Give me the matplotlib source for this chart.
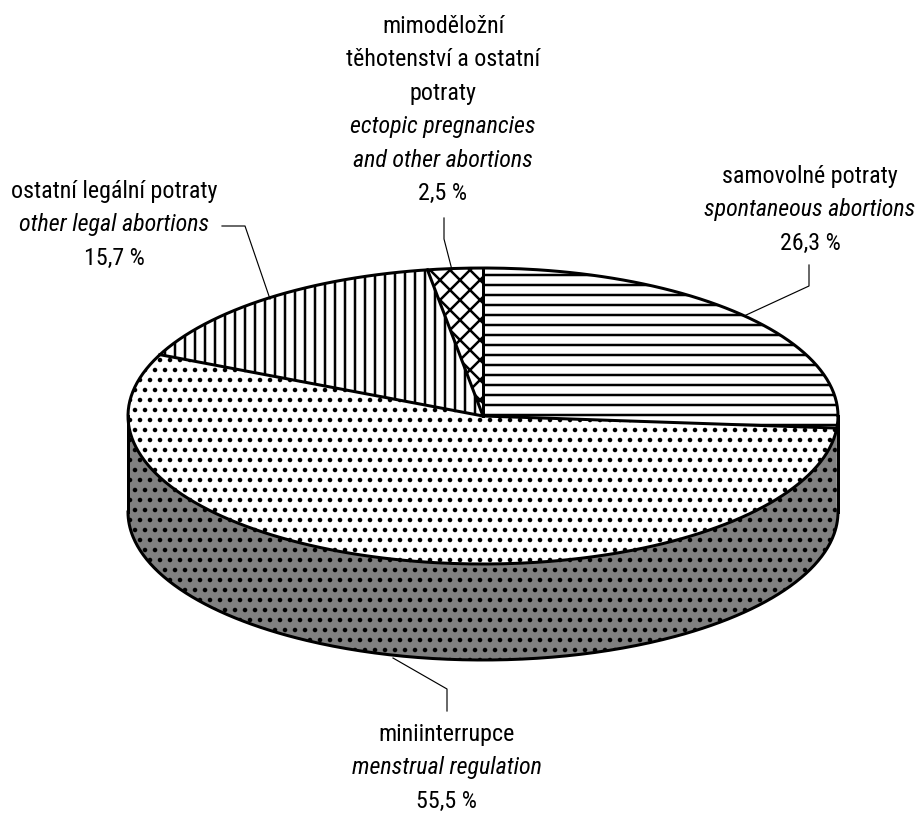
import numpy as np
import matplotlib
matplotlib.use("Agg")
import matplotlib.pyplot as plt
from matplotlib.patches import Polygon

# ---- data ----
categories_cz = ["samovolné potraty", "miniinterrupce", "ostatní legální potraty",
                 "mimoděložní těhotenství a ostatní potraty"]
categories_en = ["spontaneous abortions", "menstrual regulation", "other legal abortions",
                 "ectopic pregnancies and other abortions"]
values = [26.3, 55.5, 15.7, 2.5]
value_labels = ["26,3 %", "55,5 %", "15,7 %", "2,5 %"]

# ---- style ----
DPI = 120
W, H = 921, 817
plt.rcParams['hatch.linewidth'] = 1.5
plt.rcParams['hatch.color'] = 'black'
FONT = ['Roboto Condensed', 'Liberation Sans', 'DejaVu Sans']
fs = 24.0 * 72 / DPI

fig = plt.figure(figsize=(W / DPI, H / DPI), dpi=DPI)
ax = fig.add_axes([0, 0, 1, 1])
ax.set_xlim(0, W)
ax.set_ylim(H, 0)
ax.axis('off')

cx, cy, rx, ry, depth = 483.0, 416.0, 355.0, 148.0, 96.0
top_hatch = ['--', '..', '||', 'xx']
side_color = '#808080'


def pt(theta, dz=0.0):
    t = np.radians(theta)
    return cx + rx * np.cos(t), cy - ry * np.sin(t) + dz


def arc(a0, a1, dz=0.0, n=200):
    th = np.linspace(a0, a1, n)
    xs, ys = pt(th, dz)
    return np.column_stack([xs, ys])


total = sum(values)
angles = []
start = 90.0
for v in values:
    end = start - v / total * 360.0
    angles.append((start, end))
    start = end

# sides (visible where angle in [-180, 0] mod 360)
for i, (a0, a1) in enumerate(angles):
    for k in range(-2, 2):
        lo, hi = -180 + 360 * k, 360 * k
        s_hi = min(a0, hi)
        s_lo = max(a1, lo)
        if s_hi > s_lo:
            top = arc(s_hi, s_lo)
            bot = arc(s_lo, s_hi, depth)
            poly = Polygon(np.vstack([top, bot]), closed=True, facecolor=side_color,
                           edgecolor='black', linewidth=0, hatch=top_hatch[i], zorder=1)
            ax.add_patch(poly)

# top faces
for i, (a0, a1) in enumerate(angles):
    pts = np.vstack([[cx, cy], arc(a0, a1)])
    poly = Polygon(pts, closed=True, facecolor='white', edgecolor='black',
                   linewidth=0, hatch=top_hatch[i], zorder=2)
    ax.add_patch(poly)

# outlines
lw = 1.8
e = arc(0, 360, n=400)
ax.plot(e[:, 0], e[:, 1], color='black', lw=lw, zorder=5, solid_capstyle='round')
b = arc(180, 360, depth, n=300)
ax.plot(b[:, 0], b[:, 1], color='black', lw=lw, zorder=5)
for th in (180, 0):
    x0, y0 = pt(th)
    ax.plot([x0, x0], [y0, y0 + depth], color='black', lw=lw, zorder=5)
for (a0, a1) in angles:
    x1, y1 = pt(a0)
    ax.plot([cx, x1], [cy, y1], color='black', lw=lw, zorder=5)

# labels
pitch = 33.5
label_specs = [
    (810, 176, [(categories_cz[0], False), (categories_en[0], True), (value_labels[0], False)]),
    (447, 734, [(categories_cz[1], False), (categories_en[1], True), (value_labels[1], False)]),
    (114, 191, [(categories_cz[2], False), (categories_en[2], True), (value_labels[2], False)]),
    (443, 26, [("mimoděložní", False), ("těhotenství a ostatní", False), ("potraty", False),
               ("ectopic pregnancies", True), ("and other abortions", True),
               (value_labels[3], False)]),
]
for x, y0, lines in label_specs:
    for j, (txt, it) in enumerate(lines):
        ax.text(x, y0 + j * pitch, txt, ha='center', va='center', fontsize=fs,
                family=FONT, style='italic' if it else 'normal', color='black')

leaders = [
    [(744, 316), (809, 286), (809, 265)],
    [(393, 658), (447, 689), (447, 711)],
    [(270, 299), (245, 226), (222, 226)],
    [(452, 270), (444, 239), (444, 218)],
]
for ld in leaders:
    ld = np.array(ld)
    ax.plot(ld[:, 0], ld[:, 1], color='black', lw=0.7, zorder=6)

fig.savefig('out.png', dpi=DPI)
